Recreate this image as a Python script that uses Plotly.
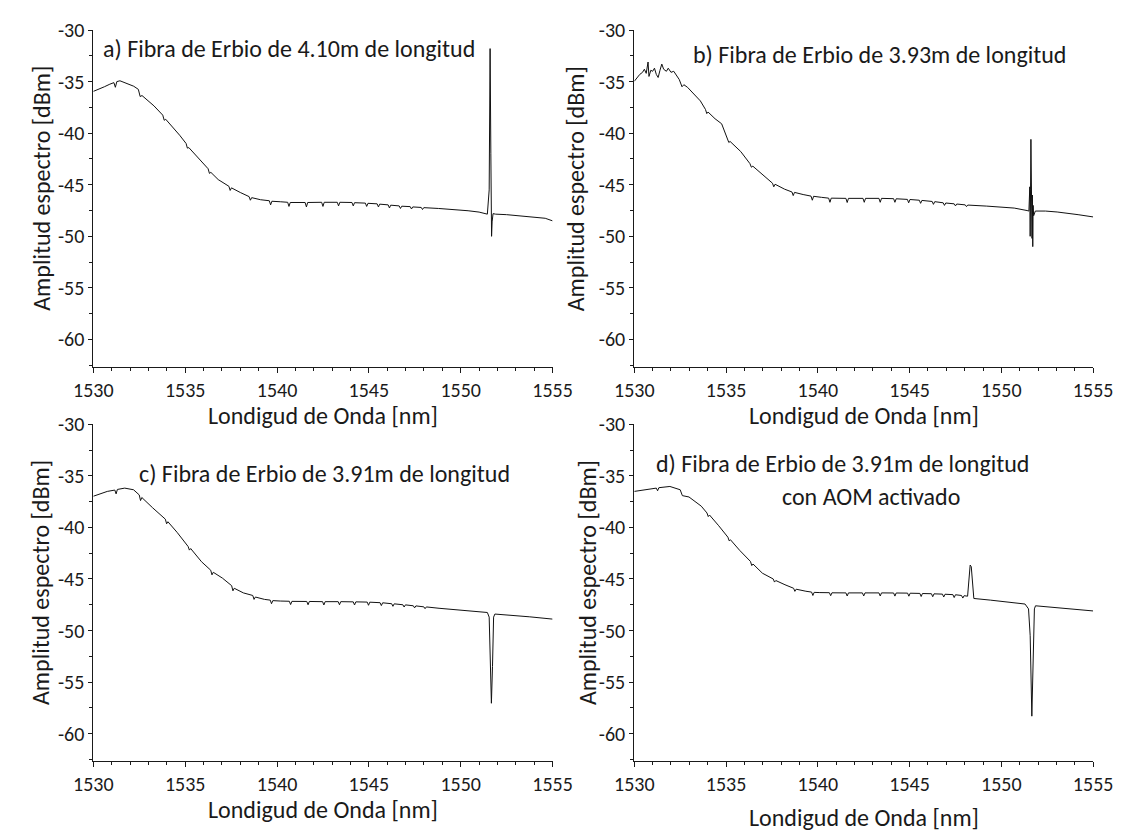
import plotly.graph_objects as go

# ---------------- data ----------------
wl_a = [1530.00, 1530.30, 1530.60, 1530.90, 1531.12, 1531.20, 1531.28, 1531.45, 1531.70, 1531.95,
        1532.20, 1532.45, 1532.55, 1532.65, 1532.90, 1533.30, 1533.78, 1533.86, 1533.94, 1534.30,
        1534.70, 1535.05, 1535.12, 1535.20, 1535.60, 1536.00, 1536.25, 1536.32, 1536.40, 1536.80,
        1537.38, 1537.45, 1537.52, 1538.00, 1538.48, 1538.55, 1538.62, 1539.10, 1539.58, 1539.65,
        1539.72, 1540.20, 1540.58, 1540.65, 1540.72, 1541.53, 1541.60, 1541.67, 1542.43, 1542.50,
        1542.57, 1543.28, 1543.35, 1543.42, 1544.08, 1544.15, 1544.22, 1544.81, 1544.88, 1544.95,
        1545.45, 1545.52, 1545.59, 1546.05, 1546.12, 1546.19, 1546.65, 1546.72, 1546.79, 1547.25,
        1547.32, 1547.39, 1547.85, 1547.92, 1547.99, 1548.80, 1549.60, 1550.40, 1551.00, 1551.45,
        1551.55, 1551.60, 1551.64, 1551.68, 1551.71, 1551.76, 1551.90, 1552.50, 1553.20, 1554.00,
        1554.60, 1555.00]
amp_a = [-35.95, -35.75, -35.50, -35.25, -35.10, -35.55, -35.00, -34.92, -35.10, -35.30,
         -35.45, -35.75, -36.45, -36.35, -36.75, -37.35, -38.25, -38.75, -38.65, -39.35,
         -40.20, -41.00, -41.45, -41.40, -42.20, -42.95, -43.45, -43.90, -43.80, -44.50,
         -45.15, -45.55, -45.30, -45.75, -46.15, -46.50, -46.25, -46.45, -46.55, -46.95,
         -46.60, -46.65, -46.70, -47.10, -46.72, -46.72, -47.15, -46.72, -46.70, -47.10,
         -46.70, -46.70, -47.05, -46.70, -46.72, -47.05, -46.74, -46.78, -47.10, -46.80,
         -46.85, -47.15, -46.88, -46.95, -47.25, -46.98, -47.05, -47.30, -47.08, -47.12,
         -47.35, -47.15, -47.20, -47.40, -47.22, -47.30, -47.40, -47.52, -47.65, -47.85,
         -45.50, -31.80, -42.00, -50.00, -48.60, -47.80, -47.85, -47.90, -48.00, -48.15,
         -48.25, -48.50]

wl_b = [1530.00, 1530.15, 1530.30, 1530.45, 1530.55, 1530.65, 1530.75, 1530.80, 1530.90, 1531.00,
        1531.10, 1531.20, 1531.30, 1531.40, 1531.50, 1531.60, 1531.75, 1531.85, 1532.00, 1532.15,
        1532.30, 1532.45, 1532.60, 1532.70, 1532.90, 1533.20, 1533.60, 1533.88, 1533.95, 1534.02,
        1534.40, 1534.76, 1535.08, 1535.15, 1535.22, 1535.80, 1536.30, 1536.38, 1536.46, 1537.05,
        1537.53, 1537.60, 1537.67, 1538.19, 1538.59, 1538.66, 1538.73, 1539.20, 1539.63, 1539.70,
        1539.77, 1540.20, 1540.59, 1540.66, 1540.73, 1541.53, 1541.60, 1541.67, 1542.46, 1542.53,
        1542.60, 1543.33, 1543.40, 1543.47, 1544.13, 1544.20, 1544.27, 1544.88, 1544.95, 1545.02,
        1545.53, 1545.60, 1545.67, 1546.23, 1546.30, 1546.37, 1546.83, 1546.90, 1546.97, 1547.43,
        1547.50, 1547.57, 1548.03, 1548.10, 1548.17, 1549.20, 1550.70, 1551.40, 1551.50, 1551.55,
        1551.57, 1551.59, 1551.61, 1551.63, 1551.65, 1551.67, 1551.69, 1551.71, 1551.73, 1551.76,
        1551.85, 1552.40, 1553.04, 1554.18, 1555.00]
amp_b = [-34.97, -34.60, -34.30, -34.10, -33.80, -34.20, -33.10, -34.50, -33.90, -34.00,
         -33.70, -34.30, -34.60, -33.90, -33.30, -33.80, -34.00, -33.70, -34.10, -34.00,
         -34.40, -34.80, -35.50, -35.30, -35.55, -36.10, -36.87, -37.70, -38.10, -37.95,
         -38.60, -39.09, -40.50, -40.90, -40.80, -41.78, -42.95, -43.30, -43.20, -44.16,
         -44.85, -45.20, -44.95, -45.43, -45.70, -46.05, -45.74, -45.95, -46.10, -46.50,
         -46.12, -46.22, -46.30, -46.70, -46.30, -46.32, -46.72, -46.32, -46.32, -46.70,
         -46.32, -46.32, -46.70, -46.32, -46.35, -46.70, -46.36, -46.42, -46.75, -46.43,
         -46.50, -46.80, -46.52, -46.62, -46.90, -46.64, -46.75, -47.00, -46.77, -46.85,
         -47.05, -46.87, -46.95, -47.12, -46.97, -47.07, -47.26, -47.50, -47.55, -45.20,
         -50.00, -45.50, -40.60, -49.80, -44.80, -50.20, -46.00, -51.00, -47.00, -48.00,
         -47.55, -47.55, -47.64, -47.90, -48.12]

wl_c = [1530.00, 1530.40, 1530.76, 1531.17, 1531.24, 1531.31, 1531.71, 1532.19, 1532.50, 1532.57,
        1532.64, 1533.23, 1533.92, 1533.99, 1534.06, 1534.56, 1535.16, 1535.23, 1535.30, 1535.89,
        1536.39, 1536.46, 1536.53, 1537.03, 1537.53, 1537.60, 1537.67, 1538.17, 1538.68, 1538.75,
        1538.82, 1539.32, 1539.63, 1539.70, 1539.77, 1540.20, 1540.67, 1540.74, 1540.81, 1541.62,
        1541.69, 1541.76, 1542.48, 1542.55, 1542.62, 1543.33, 1543.40, 1543.47, 1544.15, 1544.22,
        1544.29, 1544.91, 1544.98, 1545.05, 1545.61, 1545.68, 1545.75, 1546.24, 1546.31, 1546.38,
        1546.85, 1546.92, 1546.99, 1547.42, 1547.49, 1547.56, 1547.99, 1548.06, 1548.13, 1548.82,
        1549.80, 1550.72, 1551.45, 1551.55, 1551.61, 1551.67, 1551.73, 1551.79, 1551.86, 1552.62,
        1553.76, 1555.00]
amp_c = [-36.98, -36.70, -36.51, -36.38, -36.75, -36.32, -36.19, -36.35, -36.85, -37.40,
         -37.10, -38.10, -39.20, -39.65, -39.45, -40.48, -41.85, -42.20, -42.05, -43.33,
         -44.15, -44.60, -44.35, -44.92, -45.65, -46.15, -45.90, -46.35, -46.60, -46.98,
         -46.75, -46.98, -47.05, -47.40, -47.10, -47.14, -47.16, -47.48, -47.17, -47.18,
         -47.50, -47.18, -47.20, -47.52, -47.20, -47.20, -47.50, -47.20, -47.22, -47.52,
         -47.22, -47.24, -47.55, -47.25, -47.30, -47.58, -47.31, -47.40, -47.65, -47.41,
         -47.50, -47.72, -47.51, -47.60, -47.80, -47.61, -47.70, -47.88, -47.71, -47.84,
         -47.98, -48.10, -48.25, -48.70, -53.80, -57.05, -53.50, -48.70, -48.40, -48.48,
         -48.67, -48.89]

wl_d = [1530.00, 1530.40, 1530.80, 1531.20, 1531.27, 1531.34, 1531.94, 1532.50, 1532.62, 1532.72,
        1532.98, 1533.65, 1533.96, 1534.03, 1534.10, 1534.60, 1535.10, 1535.17, 1535.24, 1535.74,
        1536.33, 1536.40, 1536.47, 1536.98, 1537.57, 1537.64, 1537.71, 1538.21, 1538.68, 1538.75,
        1538.82, 1539.35, 1539.66, 1539.73, 1539.80, 1540.11, 1540.63, 1540.70, 1540.77, 1541.53,
        1541.60, 1541.67, 1542.43, 1542.50, 1542.57, 1543.33, 1543.40, 1543.47, 1544.13, 1544.20,
        1544.27, 1544.89, 1544.96, 1545.03, 1545.56, 1545.63, 1545.70, 1546.19, 1546.26, 1546.33,
        1546.79, 1546.86, 1546.93, 1547.36, 1547.43, 1547.50, 1547.83, 1547.90, 1547.97, 1548.16,
        1548.24, 1548.30, 1548.36, 1548.44, 1548.50, 1549.40, 1550.15, 1551.29, 1551.48, 1551.57,
        1551.66, 1551.74, 1551.80, 1551.86, 1552.20, 1553.00, 1554.00, 1555.00]
amp_d = [-36.51, -36.40, -36.29, -36.19, -36.45, -36.15, -36.03, -36.35, -36.92, -36.95,
         -37.05, -37.94, -38.60, -38.95, -38.80, -39.84, -40.95, -41.30, -41.20, -42.22,
         -43.30, -43.70, -43.55, -44.44, -45.00, -45.30, -45.15, -45.56, -45.90, -46.20,
         -45.99, -46.19, -46.27, -46.60, -46.30, -46.32, -46.33, -46.62, -46.34, -46.35,
         -46.65, -46.35, -46.35, -46.65, -46.35, -46.35, -46.65, -46.35, -46.36, -46.66,
         -46.36, -46.37, -46.67, -46.38, -46.40, -46.70, -46.41, -46.43, -46.72, -46.44,
         -46.47, -46.75, -46.48, -46.52, -46.80, -46.53, -46.60, -46.85, -46.62, -46.67,
         -45.00, -43.65, -43.80, -46.00, -46.89, -47.05, -47.21, -47.43, -47.90, -50.50,
         -58.30, -51.50, -47.90, -47.60, -47.65, -47.78, -47.95, -48.10]

x_ticks = [1530, 1535, 1540, 1545, 1550, 1555]
x_ticktext = ["1530", "1535", "1540", "1545", "1550", "1555"]
y_ticks = [-30, -35, -40, -45, -50, -55, -60]
y_ticktext = ["-30", "-35", "-40", "-45", "-50", "-55", "-60"]

titles = ["a) Fibra de Erbio de 4.10m de longitud",
          "b) Fibra de Erbio de 3.93m de longitud",
          "c) Fibra de Erbio de 3.91m de longitud",
          "d) Fibra de Erbio de 3.91m de longitud"]
subtitle_d = "con AOM activado"
x_title = "Londigud de Onda [nm]"
y_title = "Amplitud espectro [dBm]"

series = [(wl_a, amp_a), (wl_b, amp_b), (wl_c, amp_c), (wl_d, amp_d)]

# ---------------- layout / style ----------------
W, H = 1136, 831
FONT = "Carlito, Calibri, Lato, sans-serif"
INK = "#1a1a1a"
TICK_SIZE = 20
TITLE_SIZE = 24
PANEL_TITLE_SIZE = 24

# pixel geometry of each panel: left, right, top(-30), bottom(axis line)
geom = [
    dict(x0=76.0, x1=552.0, yt=18.3, yb=360.0, tx=84, ty=37, ytx=22, xty=409),
    dict(x0=636.7, x1=1112.3, yt=18.3, yb=360.0, tx=696, ty=43, ytx=576, xty=409),
    dict(x0=76.0, x1=552.0, yt=418.3, yb=760.0, tx=121, ty=468, ytx=22, xty=809),
    dict(x0=636.7, x1=1112.3, yt=418.3, yb=760.0, tx=657, ty=458, ytx=588, xty=817),
]
Y_LOW = -62.65

fig = go.Figure()
layout = dict(
    width=W, height=H,
    margin=dict(l=0, r=0, t=0, b=0),
    paper_bgcolor="white", plot_bgcolor="white",
    showlegend=False,
    font=dict(family=FONT, color=INK),
)
annotations = []

for i, ((wl, amp), g) in enumerate(zip(series, geom)):
    n = "" if i == 0 else str(i + 1)
    fig.add_trace(go.Scatter(x=wl, y=amp, mode="lines",
                             line=dict(color="#111111", width=1),
                             xaxis="x" + n, yaxis="y" + n,
                             hoverinfo="skip"))
    layout["xaxis" + n] = dict(
        domain=[g["x0"] / W, g["x1"] / W], anchor="y" + n,
        range=[1530, 1555], showgrid=False, zeroline=False,
        showline=True, linecolor=INK, linewidth=1,
        ticks="outside", ticklen=5, tickwidth=1, tickcolor=INK,
        tickvals=x_ticks, ticktext=x_ticktext,
        tickfont=dict(family=FONT, size=TICK_SIZE, color=INK),
        minor=dict(dtick=1, tick0=1530, ticks="outside", ticklen=3, tickcolor=INK),
    )
    layout["yaxis" + n] = dict(
        domain=[1 - g["yb"] / H, 1 - g["yt"] / H], anchor="x" + n,
        range=[Y_LOW, -30], showgrid=False, zeroline=False,
        showline=True, linecolor=INK, linewidth=1,
        ticks="outside", ticklen=4, tickwidth=1, tickcolor=INK,
        tickvals=y_ticks, ticktext=y_ticktext,
        tickfont=dict(family=FONT, size=TICK_SIZE, color=INK),
        minor=dict(dtick=2.5, tick0=-30, ticks="outside", ticklen=3, tickcolor=INK),
    )
    # panel title
    annotations.append(dict(text=titles[i], xref="paper", yref="paper",
                            x=g["tx"] / W, y=1 - g["ty"] / H,
                            xanchor="left", yanchor="middle", showarrow=False,
                            font=dict(family=FONT, size=PANEL_TITLE_SIZE, color=INK)))
    # axis titles
    annotations.append(dict(text=x_title, xref="paper", yref="paper",
                            x=(g["x0"] + g["x1"]) / 2 / W, y=1 - g["xty"] / H,
                            xanchor="center", yanchor="middle", showarrow=False,
                            borderpad=0,
                            font=dict(family=FONT, size=TITLE_SIZE, color=INK)))
    annotations.append(dict(text=y_title, xref="paper", yref="paper",
                            x=g["ytx"] / W, y=1 - ((g["yt"] + g["yb"]) / 2 - 10) / H,
                            xanchor="center", yanchor="middle", textangle=-90,
                            showarrow=False,
                            font=dict(family=FONT, size=TITLE_SIZE, color=INK)))

annotations.append(dict(text=subtitle_d, xref="paper", yref="paper",
                        x=788 / W, y=1 - 492 / H, xanchor="left", yanchor="middle",
                        showarrow=False, font=dict(family=FONT, size=PANEL_TITLE_SIZE, color=INK)))

layout["annotations"] = annotations
fig.update_layout(**layout)
fig.write_html("out.html")
